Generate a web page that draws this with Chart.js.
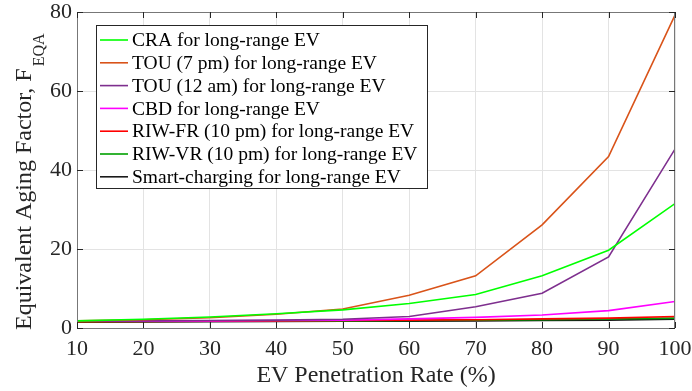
<!DOCTYPE html>
<html>
<head>
<meta charset="utf-8">
<script src="https://cdn.jsdelivr.net/npm/chart.js@4.4.1/dist/chart.umd.min.js"></script>
<style>
  html, body { margin: 0; padding: 0; background: #fff; }
  #wrap { width: 692px; height: 391px; }
</style>
</head>
<body>
<div id="wrap"><canvas id="chart"></canvas></div>
<script>
const penetration = [10, 20, 30, 40, 50, 60, 70, 80, 90, 100];
const craValues    = [1.8, 2.2, 2.8, 3.6, 4.6, 6.2, 8.5, 13.2, 19.7, 31.5];
const tou7Values   = [1.8, 2.1, 2.6, 3.5, 4.8, 8.3, 13.2, 26.1, 43.4, 79.2];
const tou12Values  = [1.7, 1.8, 1.9, 2.0, 2.2, 2.9, 5.4, 8.8, 18.0, 45.3];
const cbdValues    = [1.7, 1.75, 1.8, 1.9, 2.0, 2.3, 2.7, 3.3, 4.4, 6.7];
const riwFrValues  = [1.6, 1.65, 1.7, 1.8, 1.9, 2.0, 2.1, 2.3, 2.5, 2.9];
const riwVrValues  = [1.6, 1.65, 1.7, 1.75, 1.8, 1.9, 2.0, 2.1, 2.3, 2.5];
const smartValues  = [1.5, 1.55, 1.6, 1.65, 1.7, 1.75, 1.8, 1.9, 2.0, 2.2];

const seriesLabels = [
    'CRA for long-range EV',
    'TOU (7 pm) for long-range EV',
    'TOU (12 am) for long-range EV',
    'CBD for long-range EV',
    'RIW-FR (10 pm) for long-range EV',
    'RIW-VR (10 pm) for long-range EV',
    'Smart-charging for long-range EV'
];
const seriesColors = ['#00ff00', '#d95319', '#7e2f8e', '#ff00ff', '#ff0000', '#00a000', '#1a1a1a'];
const seriesValues = [craValues, tou7Values, tou12Values, cbdValues, riwFrValues, riwVrValues, smartValues];

const serif = '"Liberation Serif", "Times New Roman", serif';

const datasets = seriesValues.map((vals, i) => ({
    label: seriesLabels[i],
    data: vals.map((v, j) => ({ x: penetration[j], y: v })),
    borderColor: seriesColors[i],
    backgroundColor: seriesColors[i],
    borderWidth: 1.6,
    pointRadius: 0,
    tension: 0,
    order: i
}));

// box, inward ticks, legend and y title drawn like the matlab figure
const matlabAxes = {
    id: 'matlabAxes',
    afterDatasetsDraw(chart) {
        const ctx = chart.ctx;
        const a = chart.chartArea;
        const xs = chart.scales.x, ys = chart.scales.y;
        ctx.save();
        ctx.strokeStyle = '#777';
        ctx.lineWidth = 1;
        ctx.strokeRect(a.left + 0.5, a.top + 0.5, a.right - a.left - 1, a.bottom - a.top);
        ctx.strokeStyle = '#262626';
        const tl = 6;
        ctx.beginPath();
        penetration.forEach(v => {
            const px = Math.round(xs.getPixelForValue(v)) + 0.5;
            ctx.moveTo(px, a.bottom); ctx.lineTo(px, a.bottom - tl);
            ctx.moveTo(px, a.top); ctx.lineTo(px, a.top + tl);
        });
        [0, 20, 40, 60, 80].forEach(v => {
            const py = Math.round(ys.getPixelForValue(v)) + 0.5;
            ctx.moveTo(a.left, py); ctx.lineTo(a.left + tl, py);
            ctx.moveTo(a.right, py); ctx.lineTo(a.right - tl, py);
        });
        ctx.stroke();

        // legend
        const lx = 96, ly = 25, lw = 331, lh = 163;
        ctx.fillStyle = '#fff';
        ctx.fillRect(lx, ly, lw, lh);
        ctx.strokeStyle = '#262626';
        ctx.strokeRect(lx + 0.5, ly + 0.5, lw, lh);
        ctx.font = '19.5px ' + serif;
        ctx.textBaseline = 'middle';
        ctx.textAlign = 'left';
        seriesLabels.forEach((lab, i) => {
            const y = ly + 15 + i * 22.8;
            ctx.strokeStyle = seriesColors[i];
            ctx.lineWidth = 1.6;
            ctx.beginPath();
            ctx.moveTo(lx + 4, y); ctx.lineTo(lx + 32, y);
            ctx.stroke();
            ctx.fillStyle = '#000';
            ctx.fillText(lab, lx + 36, y + 1);
        });

        // y title with subscript
        ctx.translate(31, 330);
        ctx.rotate(-Math.PI / 2);
        ctx.textBaseline = 'alphabetic';
        ctx.fillStyle = '#262626';
        ctx.font = '24px ' + serif;
        const main = 'Equivalent Aging Factor, F';
        ctx.fillText(main, 0, 0);
        const w = ctx.measureText(main).width;
        ctx.font = '16px ' + serif;
        ctx.fillText('EQA', w + 2, 13);
        ctx.restore();
    }
};

new Chart(document.getElementById('chart'), {
    type: 'line',
    data: { datasets: datasets },
    options: {
        responsive: true,
        maintainAspectRatio: false,
        animation: false,
        layout: { padding: { left: 0, right: 17, top: 12, bottom: 0 } },
        plugins: {
            legend: { display: false },
            tooltip: { enabled: false }
        },
        scales: {
            x: {
                type: 'linear',
                min: 10,
                max: 100,
                afterFit: s => {
                    s.height = 63;
                    s.paddingLeft = 0;
                    s.paddingRight = 0;
                },
                ticks: {
                    stepSize: 10,
                    color: '#262626',
                    padding: 8,
                    maxRotation: 0,
                    font: { family: serif, size: 22 }
                },
                grid: { color: '#e3e3e3', drawTicks: false },
                border: { display: false },
                title: {
                    display: true,
                    text: 'EV Penetration Rate (%)',
                    color: '#262626',
                    padding: { top: 0, bottom: 1 },
                    font: { family: serif, size: 24 }
                }
            },
            y: {
                min: 0,
                max: 80,
                afterFit: s => {
                    s.width = 77;
                    s.paddingTop = 0;
                    s.paddingBottom = 0;
                },
                ticks: {
                    stepSize: 20,
                    color: '#262626',
                    padding: 5,
                    font: { family: serif, size: 22 }
                },
                grid: { color: '#e3e3e3', drawTicks: false },
                border: { display: false }
            }
        }
    },
    plugins: [matlabAxes]
});
</script>
</body>
</html>
